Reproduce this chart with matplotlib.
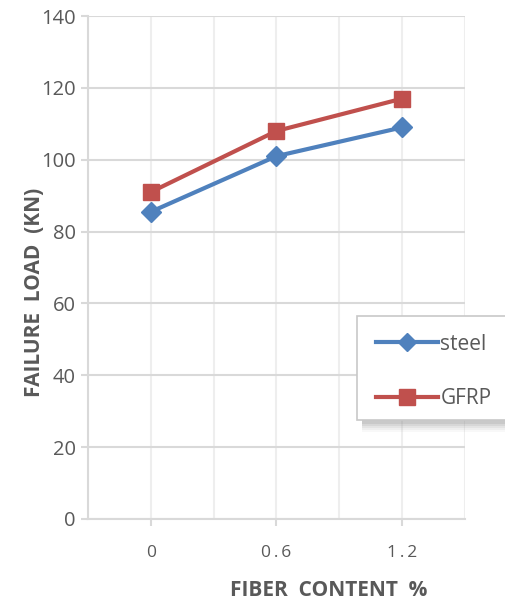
import matplotlib.pyplot as plt
from matplotlib.lines import Line2D
from matplotlib.patches import Rectangle

# Failure load by fiber content
categories = ["0", "0.6", "1.2"]
tick_labels = ["0", "0\u2009.\u20096", "1\u2009.\u20092"]
steel = [85.5, 101, 109]
gfrp = [91, 108, 117]

blue = "#4f81bd"
red = "#c0504d"
txt = "#595959"
fam = ["Open Sans", "DejaVu Sans"]

fig = plt.figure(figsize=(5.05, 6.04), dpi=100)
ax = fig.add_axes([88 / 505, 1 - 519 / 604, 377 / 505, 503 / 604])

x = range(len(categories))
ax.plot(x, steel, color=blue, lw=3, marker="D", ms=10, mec=blue, mfc=blue, zorder=3)
ax.plot(x, gfrp, color=red, lw=3, marker="s", ms=12, mec=red, mfc=red, zorder=3)

ax.set_xlim(-0.5, 2.5)
ax.set_ylim(0, 140)
ax.set_yticks(range(0, 141, 20))
ax.set_xticks(list(x))
ax.set_xticks([-0.5, 0.5, 1.5, 2.5], minor=True)
ax.set_xticklabels(tick_labels, family=fam, fontsize=12.5, color=txt)
for lab in ax.get_yticklabels():
    lab.set_family(fam)
    lab.set_fontsize(14.5)
    lab.set_color(txt)

ax.grid(axis="y", color="#d9d9d9", lw=1.5)
ax.grid(axis="x", which="both", color="#eeeeee", lw=1.5)
ax.set_axisbelow(True)
for s in ["top", "right"]:
    ax.spines[s].set_visible(False)
for s in ["left", "bottom"]:
    ax.spines[s].set_color("#d9d9d9")
    ax.spines[s].set_linewidth(1.5)
ax.tick_params(axis="both", which="major", color="#d9d9d9", width=1.5, length=5)
ax.tick_params(axis="x", which="minor", length=0)
ax.tick_params(axis="x", pad=14)
ax.tick_params(axis="y", pad=4)

fig.text(35 / 505, 1 - 292 / 604, "FAILURE  LOAD  (KN)", rotation=90, ha="center", va="center",
         fontsize=15, fontweight="bold", color=txt, family=fam)
fig.text(329 / 505, 1 - 590 / 604, "FIBER  CONTENT  %", ha="center", va="center",
         fontsize=15, fontweight="bold", color=txt, family=fam)

# legend box with soft shadow underneath
for i, a in enumerate([0.05, 0.07, 0.09, 0.12, 0.15]):
    fig.patches.append(Rectangle((362 / 505, 1 - (432 - i * 2) / 604), 0.5, 14 / 604,
                                 transform=fig.transFigure, facecolor="#7f7f7f", alpha=a,
                                 edgecolor="none", zorder=4))
fig.patches.append(Rectangle((357 / 505, 1 - 420 / 604), 0.5, 104 / 604,
                             transform=fig.transFigure, facecolor="white",
                             edgecolor="#c8c8c8", lw=1.2, zorder=5))
handles = [Line2D([], [], color=blue, lw=3, marker="D", ms=9),
           Line2D([], [], color=red, lw=3, marker="s", ms=11)]
leg = fig.legend(handles, ["steel", "GFRP"], loc="upper left",
                 bbox_to_anchor=(357 / 505, 1 - 315 / 604), frameon=False,
                 handlelength=3.0, handletextpad=0.1, labelspacing=1.6,
                 prop={"family": fam, "size": 15})
leg.set_zorder(6)
for t in leg.get_texts():
    t.set_color(txt)

fig.savefig("out.png", dpi=100)
